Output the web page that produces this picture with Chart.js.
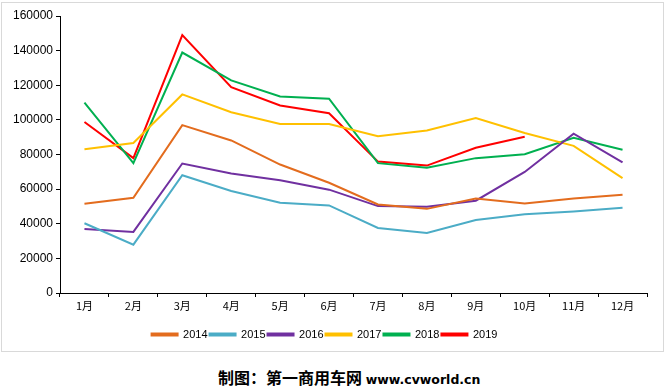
<!DOCTYPE html>
<html lang="zh">
<head>
    <meta charset="UTF-8">
    <title>2014-2019 月度销量</title>
    <style>
        body {
            margin: 0;
            background: #ffffff;
            width: 666px;
            height: 389px;
            position: relative;
            overflow: hidden;
        }

        #box {
            position: absolute;
            left: 1px;
            top: 2px;
            width: 661px;
            height: 348px;
            border: 1px solid #d9d9d9;
        }

        #caption {
            position: absolute;
            left: 218px;
            top: 367px;
            font-family: "Noto Sans CJK SC", sans-serif;
            font-weight: bold;
            font-size: 16px;
            line-height: 20px;
            color: #000;
            white-space: nowrap;
        }

        #caption span {
            font-family: "DejaVu Sans", Verdana, sans-serif;
            font-size: 12.5px;
        }
    </style>
    <script src="https://cdn.jsdelivr.net/npm/chart.js"></script>
</head>
<body>

    <div id="box">
        <canvas id="chart" width="661" height="348"></canvas>
    </div>
    <div id="caption">制图：第一商用车网 <span>www.cvworld.cn</span></div>

    <script>
        // data
        const months = ['1月', '2月', '3月', '4月', '5月', '6月', '7月', '8月', '9月', '10月', '11月', '12月'];
        const years = ['2014', '2015', '2016', '2017', '2018', '2019'];
        const colors = ['#E36C1E', '#4BACC6', '#7030A0', '#FFC000', '#00B050', '#FF0000'];

        const sales2014 = [51500, 55000, 97000, 88100, 74200, 63700, 51100, 48600, 54600, 51700, 54600, 56800];
        const sales2015 = [40300, 27900, 68000, 58900, 52100, 50600, 37600, 34700, 42200, 45500, 47100, 49200];
        const sales2016 = [37000, 35300, 74800, 69000, 65100, 59700, 50200, 49800, 53300, 69900, 92000, 75500];
        const sales2017 = [83100, 86600, 114700, 104400, 97600, 97600, 90500, 93900, 101100, 92400, 85000, 66400];
        const sales2018 = [110000, 75000, 138900, 122800, 113500, 112200, 75000, 72300, 77900, 80200, 89700, 82700];
        const sales2019 = [98800, 77900, 149000, 118900, 108300, 103800, 75900, 73600, 83900, 90300, null, null];

        const series = [sales2014, sales2015, sales2016, sales2017, sales2018, sales2019];

        const datasets = years.map((y, i) => ({
            label: y,
            data: series[i],
            borderColor: colors[i],
            backgroundColor: colors[i],
            borderWidth: 2,
            pointRadius: 0,
            tension: 0,
            spanGaps: false
        }));

        new Chart(document.getElementById('chart'), {
            type: 'line',
            data: { labels: months, datasets: datasets },
            options: {
                responsive: false,
                animation: false,
                layout: { padding: { top: 13, right: 16, left: 0, bottom: 1 } },
                plugins: {
                    tooltip: { enabled: false },
                    legend: {
                        position: 'bottom',
                        labels: {
                            boxWidth: 26,
                            boxHeight: 2,
                            padding: 2,
                            color: '#000',
                            font: { family: '"Liberation Sans", Arial, sans-serif', size: 11 }
                        }
                    }
                },
                scales: {
                    x: {
                        offset: true,
                        grid: {
                            display: true,
                            drawOnChartArea: false,
                            offset: true,
                            color: '#000',
                            tickLength: 4
                        },
                        border: { color: '#000', width: 1 },
                        ticks: {
                            color: '#000',
                            padding: 2,
                            maxRotation: 0,
                            font: { family: '"Noto Sans CJK SC", sans-serif', size: 11 }
                        },
                        afterFit: (s) => { s.height = 34; }
                    },
                    y: {
                        min: 0,
                        max: 160000,
                        grid: {
                            display: true,
                            drawOnChartArea: false,
                            color: '#000',
                            tickLength: 4
                        },
                        border: { color: '#000', width: 1 },
                        ticks: {
                            stepSize: 20000,
                            color: '#000',
                            padding: 3,
                            callback: (v) => String(v),
                            font: { family: '"Liberation Sans", Arial, sans-serif', size: 12 }
                        },
                        afterFit: (s) => { s.width = 58; }
                    }
                }
            }
        });
    </script>
</body>
</html>
